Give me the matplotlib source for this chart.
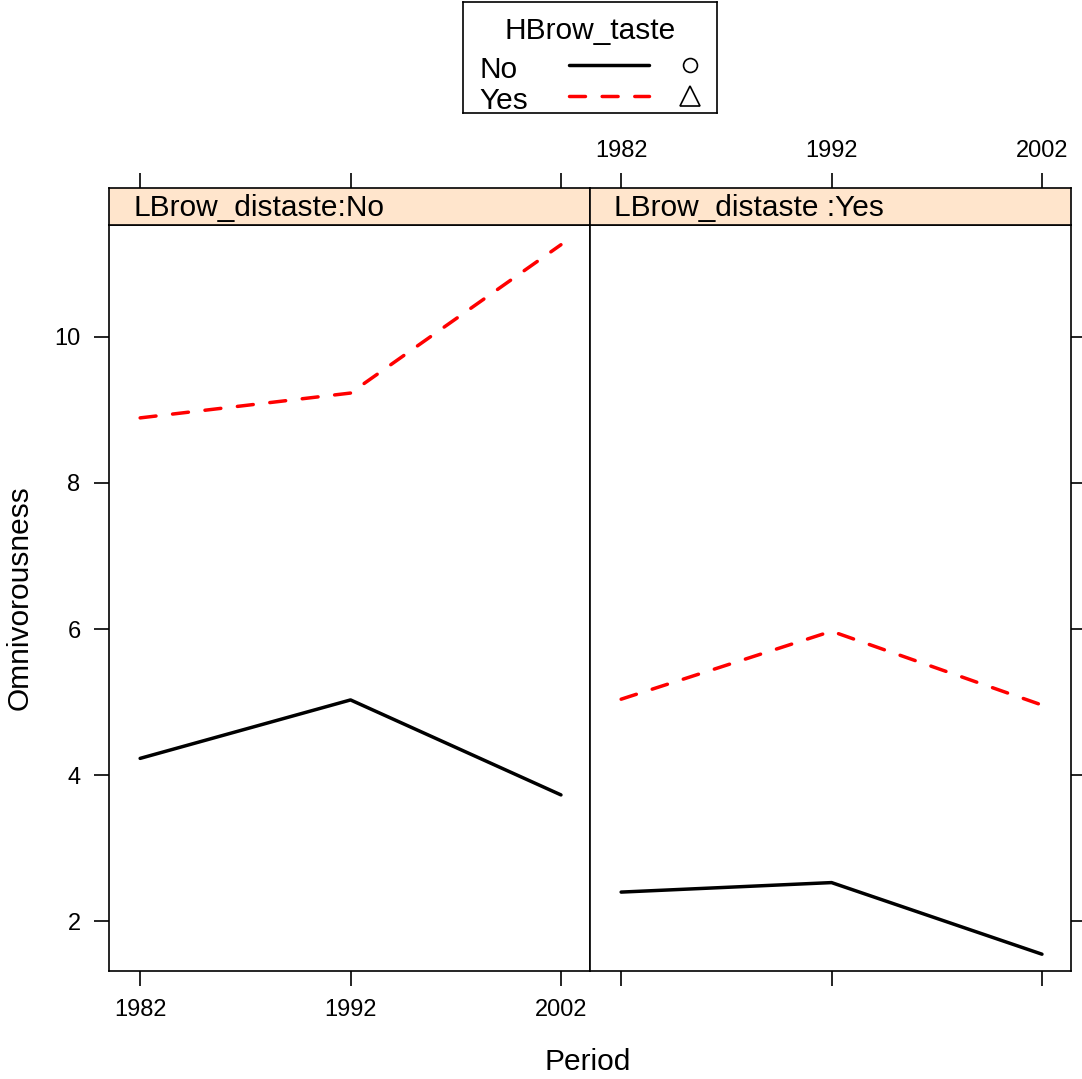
import numpy as np
import matplotlib
matplotlib.use("Agg")
import matplotlib.pyplot as plt
from matplotlib.lines import Line2D

plt.rcParams['font.family'] = ['Liberation Sans', 'DejaVu Sans']

# -----------------------------
# data
# -----------------------------
periods = [1982, 1992, 2002]
panels = ["No", "Yes"]                 # LBrow_distaste
strip_labels = ["LBrow_distaste:No", "LBrow_distaste :Yes"]
groups = ["No", "Yes"]                 # HBrow_taste

omni_no_hno = [4.23, 5.03, 3.73]       # LBrow No, HBrow No
omni_no_hyes = [8.89, 9.23, 11.26]     # LBrow No, HBrow Yes
omni_yes_hno = [2.40, 2.53, 1.55]      # LBrow Yes, HBrow No
omni_yes_hyes = [5.04, 5.97, 4.96]     # LBrow Yes, HBrow Yes

yticks = [2, 4, 6, 8, 10]

W, H = 1082, 1079
DPI = 100

colors = {"No": "black", "Yes": "#FF0000"}
styles = {"No": "-", "Yes": (0, (4.6, 4.8))}
markers = {"No": "o", "Yes": "^"}
msizes = {"No": 10, "Yes": 14}

fig = plt.figure(figsize=(W / DPI, H / DPI), dpi=DPI)


def px_box(x0, y0, x1, y1):
    # pixel box (top-left origin) -> figure fraction rect
    return [x0 / W, 1 - y1 / H, (x1 - x0) / W, (y1 - y0) / H]


XLIM = (1980.52, 2003.38)
YLIM = (1.32, 11.53)
TICK_LEN = 10.5
LW = 2.5
TICK_FS = 17
LAB_FS = 21.5
SPW = 1.2

data = {
    "No": {"No": omni_no_hno, "Yes": omni_no_hyes},
    "Yes": {"No": omni_yes_hno, "Yes": omni_yes_hyes},
}

panel_x = [(109, 590), (590, 1071)]
for i, p in enumerate(panels):
    x0, x1 = panel_x[i]
    ax = fig.add_axes(px_box(x0, 225, x1, 971))
    for g in groups:
        ax.plot(periods, data[p][g], color=colors[g], linestyle=styles[g],
                linewidth=LW, solid_capstyle="round", dash_capstyle="round")
    ax.set_xlim(*XLIM)
    ax.set_ylim(*YLIM)
    ax.set_xticks(periods)
    ax.set_yticks(yticks)
    ax.tick_params(direction="out", length=TICK_LEN, width=SPW, labelsize=TICK_FS,
                   colors="black")
    ax.tick_params(axis="x", pad=10)
    ax.tick_params(axis="y", pad=10)
    if i == 0:
        ax.tick_params(left=True, right=False, labelleft=True,
                       bottom=True, labelbottom=True, top=False)
        ax.set_yticklabels([str(v) for v in yticks])
    else:
        ax.tick_params(left=False, labelleft=False, right=True, labelright=False,
                       bottom=True, labelbottom=False, top=False)
    for s in ax.spines.values():
        s.set_linewidth(SPW)

    # strip
    sx = fig.add_axes(px_box(x0, 188, x1, 225))
    sx.set_facecolor("#FFE5CC")
    sx.set_xlim(*XLIM)
    sx.set_ylim(0, 1)
    sx.set_yticks([])
    sx.set_xticks(periods)
    sx.tick_params(axis="x", direction="out", length=TICK_LEN, width=SPW,
                   bottom=False, labelbottom=False, top=True,
                   labeltop=(i == 1), labelsize=TICK_FS, pad=8)
    for s in sx.spines.values():
        s.set_linewidth(SPW)
    sx.text(0.05, 0.45, strip_labels[i], transform=sx.transAxes,
            fontsize=LAB_FS, ha="left", va="center")

# axis labels
fig.text(588 / W, 1 - 1062 / H, "Period", fontsize=LAB_FS, ha="center", va="center")
fig.text(20 / W, 1 - 598 / H, "Omnivorousness", fontsize=LAB_FS, rotation=90,
         ha="center", va="center")

# legend box (lattice style key)
lg = fig.add_axes(px_box(463, 2, 717, 113))
lg.set_xlim(463, 717)
lg.set_ylim(113, 2)
lg.set_xticks([])
lg.set_yticks([])
for s in lg.spines.values():
    s.set_linewidth(SPW)
lg.text(590, 31, "HBrow_taste", fontsize=LAB_FS, ha="center", va="center")
row_y = [65, 96]
for g, yy in zip(groups, row_y):
    lg.text(479, yy + 5, g, fontsize=LAB_FS, ha="left", va="center")
    lg.add_line(Line2D([569, 649], [yy, yy], color=colors[g], linestyle=styles[g],
                       linewidth=LW, dash_capstyle="round", solid_capstyle="round"))
    lg.plot([690], [yy], marker=markers[g], markersize=msizes[g],
            markerfacecolor="none", markeredgecolor="black",
            markeredgewidth=1.2, linestyle="none")

fig.savefig("out.png", dpi=DPI)
